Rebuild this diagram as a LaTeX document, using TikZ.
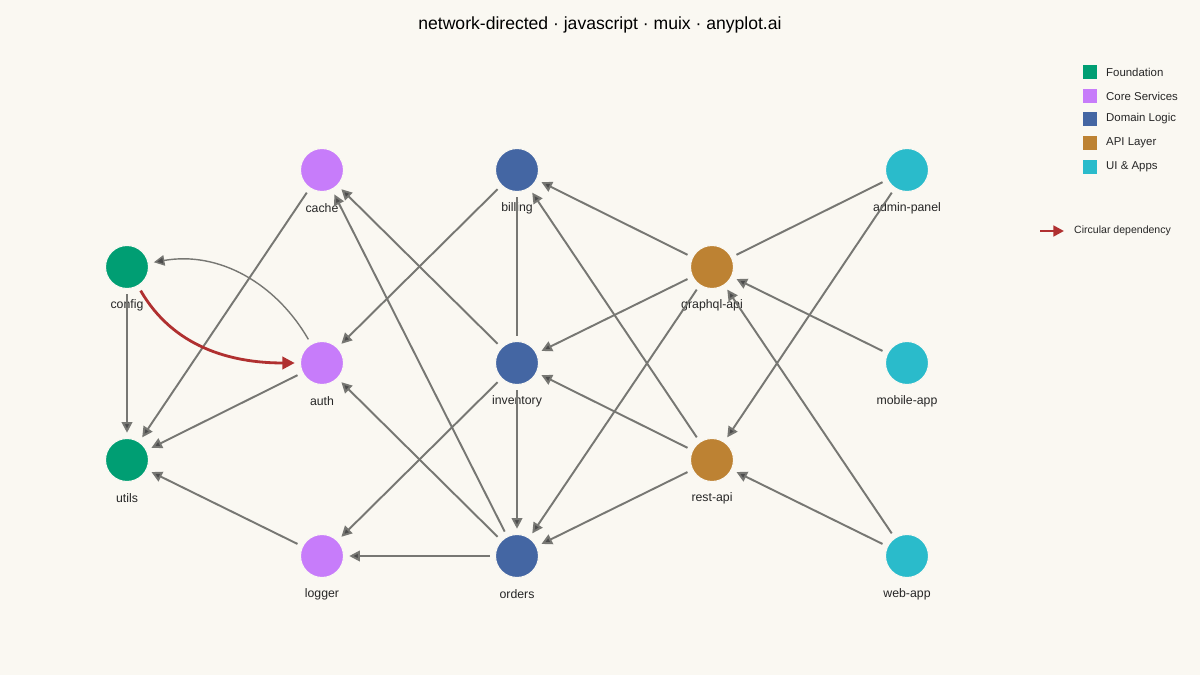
\documentclass[tikz,border=0pt]{standalone}
\usepackage{fontspec}
\setmainfont{Liberation Sans}
\usetikzlibrary{arrows.meta}
\definecolor{bg}{HTML}{FAF8F2}
\definecolor{cF}{HTML}{009E73}
\definecolor{cC}{HTML}{C77CFA}
\definecolor{cD}{HTML}{4466A3}
\definecolor{cA}{HTML}{BD8233}
\definecolor{cU}{HTML}{2ABBCB}
\definecolor{ed}{HTML}{777773}
\definecolor{red}{HTML}{B03030}
\begin{document}
\begin{tikzpicture}[x=0.02cm,y=-0.02cm,
 nd/.style={circle,minimum size=0.86cm,inner sep=0pt,fill=#1,draw=bg,line width=0.6pt},
 lb/.style={font=\fontsize{7}{8}\selectfont,text=black!85},
 e/.style={draw=ed,line width=1.1pt,shorten <=3pt,shorten >=3pt,-{Triangle[length=6pt,width=6pt,fill=black!70]}},
 ep/.style={draw=ed,line width=1.1pt,shorten <=3pt,shorten >=3pt},
 lg/.style={font=\fontsize{6.5}{8}\selectfont,anchor=west,text=black!85}]
\fill[bg] (0,0) rectangle (1200,675);
\node[font=\fontsize{10}{12}\selectfont] (title) at (600,25) {network-directed · javascript · muix · anyplot.ai};
% nodes
\foreach \n/\x/\y/\c in {cache/322/170/cC,billing/517/170/cD,admin-panel/907/170/cU,config/127/267/cF,graphql-api/712/267/cA,auth/322/363/cC,inventory/517/363/cD,mobile-app/907/363/cU,utils/127/460/cF,rest-api/712/460/cA,logger/322/556/cC,orders/517/556/cD,web-app/907/556/cU}{
 \node[nd=\c] (\n) at (\x,\y) {};
 \node[lb] (\n-l) at (\x,\y+38) {\n};
}
\begin{scope}[on background layer/.style={}]
\draw[e] (cache) -- (utils);
\draw[e] (auth) -- (utils);
\draw[e] (config) -- (utils);
\draw[e] (logger) -- (utils);
\draw[e,line width=0.8pt] (auth) to[out=120,in=10] (config);
\draw[line width=1.6pt,red,shorten <=3pt,shorten >=3pt,-{Triangle[length=7pt,width=7pt]}] (config) to[out=-60,in=180] (auth);
\draw[e] (billing) -- (auth);
\draw[e] (inventory) -- (cache);
\draw[e] (orders) -- (cache);
\draw[e] (orders) -- (auth);
\draw[e] (inventory) -- (logger);
\draw[e] (orders) -- (logger);
\draw[ep] (billing) -- (inventory);
\draw[e] (inventory) -- (orders);
\draw[e] (graphql-api) -- (billing);
\draw[e] (graphql-api) -- (inventory);
\draw[e] (graphql-api) -- (orders);
\draw[e] (rest-api) -- (billing);
\draw[e] (rest-api) -- (inventory);
\draw[e] (rest-api) -- (orders);
\draw[ep] (admin-panel) -- (graphql-api);
\draw[e] (admin-panel) -- (rest-api);
\draw[e] (mobile-app) -- (graphql-api);
\draw[e] (web-app) -- (rest-api);
\draw[e] (web-app) -- (graphql-api);
\end{scope}
% legend
\foreach \t/\c/\y in {Foundation/cF/72,Core Services/cC/96,Domain Logic/cD/119,API Layer/cA/143,UI \& Apps/cU/167}{
 \fill[\c] (1083,\y-7) rectangle (1097,\y+7);
 \node[lg] at (1100,\y) {\t};
}
\coordinate (la) at (1040,231);
\coordinate (lb2) at (1064,231);
\draw[line width=1.6pt,red,-{Triangle[length=6pt,width=6pt]}] (la) -- (lb2);
\node[lg,font=\fontsize{6}{7}\selectfont] at (1068,231) {Circular dependency};
\end{tikzpicture}
\end{document}
